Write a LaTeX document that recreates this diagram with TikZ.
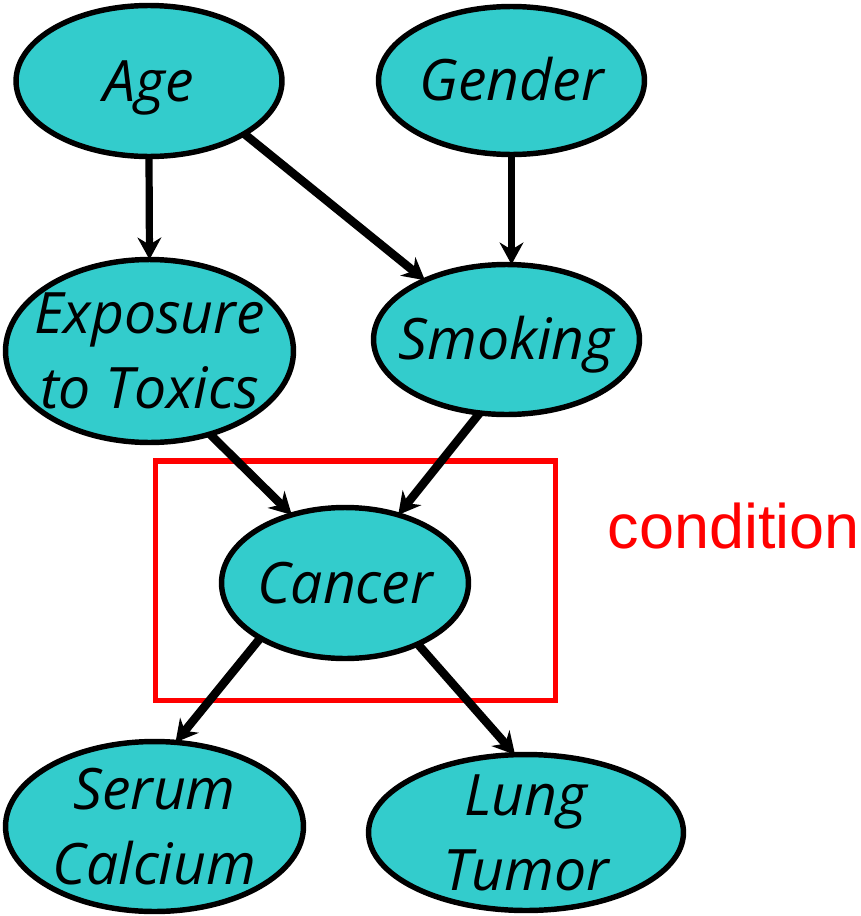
\documentclass[tikz,border=0pt]{standalone}
\usepackage{fontspec}
\setmainfont{Open Sans}
\newfontfamily\condfont{Liberation Sans}
\usetikzlibrary{shapes.geometric,arrows.meta}
\definecolor{nodefill}{HTML}{33CCCC}
\begin{document}
\begin{tikzpicture}[x=0.02cm,y=-0.02cm,
  bn/.style={ellipse, draw=black, fill=nodefill, line width=3.1pt, inner sep=0pt, outer sep=0pt},
  lblone/.style={font=\fontsize{32.5}{42.5}\selectfont\itshape, text height=23pt, text depth=0pt, inner sep=0pt},
  lbltwo/.style={font=\fontsize{32.5}{42.5}\selectfont\itshape, align=center, text height=65.5pt, text depth=0pt, inner sep=0pt},
  arr/.style={-{Stealth[length=12.5pt,width=13.5pt]}, line width=4.1pt},
  darr/.style={arr, line width=4.8pt}
]
\useasboundingbox (0,0) rectangle (861,916);
% nodes
\node[bn, minimum width=5.32cm, minimum height=3.02cm] (age) at (149,81) {};
\node[lblone] (agetxt) at (age.center) {Age};
\node[bn, minimum width=5.32cm, minimum height=2.96cm] (gender) at (511.5,80.5) {};
\node[lblone] (gendertxt) at (gender.center) {Gender};
\node[bn, minimum width=5.76cm, minimum height=3.66cm] (expo) at (149.5,351) {};
\node[lbltwo] (expotxt) at (expo.center) {Exposure\\to Toxics};
\node[bn, minimum width=5.32cm, minimum height=3.00cm] (smoke) at (506.5,339.5) {};
\node[lblone] (smoketxt) at (smoke.center) {Smoking};
\node[bn, minimum width=4.94cm, minimum height=3.02cm] (cancer) at (345,583) {};
\node[lblone] (cancertxt) at (cancer.center) {Cancer};
\node[bn, minimum width=5.96cm, minimum height=3.40cm] (serum) at (154.5,826.5) {};
\node[lbltwo] (serumtxt) at (serum.center) {Serum\\Calcium};
\node[bn, minimum width=6.30cm, minimum height=3.12cm] (lung) at (526,832.5) {};
\node[lbltwo] (lungtxt) at (lung.center) {Lung\\Tumor};
% condition box
\node[draw=red, line width=3.2pt, minimum width=8.0cm, minimum height=4.79cm, inner sep=0pt, outer sep=0pt] (condbox) at (355.5,580.75) {};
\node[anchor=base west, text=red, font=\condfont\fontsize{35.8}{40}\selectfont, inner sep=0pt] (cond) at (607.5,548) {condition};
% arrows
\draw[arr] (age.south) -- (expo.north);
\draw[arr] (gender.south) -- (gender.south |- smoke.north);
\draw[darr] (age.-29) -- (smoke.144);
\draw[darr] (expo.-54) -- (cancer.128);
\draw[darr] (smoke.-110) -- (cancer.52);
\draw[darr] (cancer.-147) -- (serum.76);
\draw[darr] (cancer.-40) -- (lung.98);
\end{tikzpicture}
\end{document}
